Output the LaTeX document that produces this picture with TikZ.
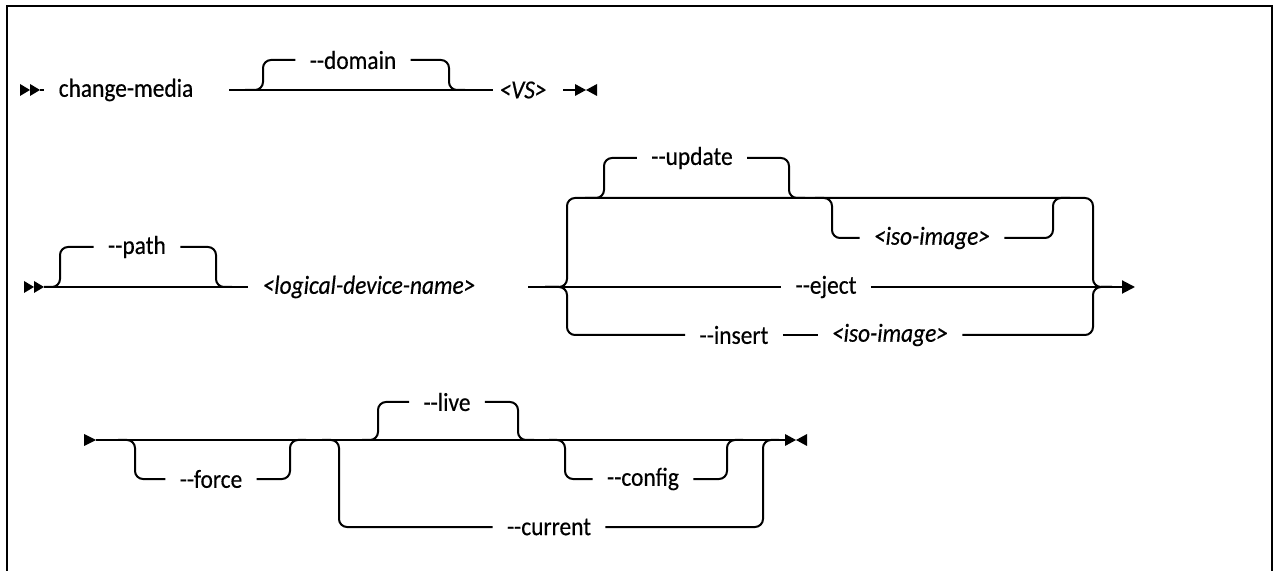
\documentclass[tikz,border=0pt]{standalone}
\usepackage{fontspec}
\setmainfont{Carlito}[FakeStretch=0.9,FakeBold=0.4]
\usetikzlibrary{arrows.meta,positioning}
\newcommand{\dd}{-{}-}

\tikzset{
  rail/.style={line width=1pt, rounded corners=4pt},
  tok/.style={inner xsep=7pt, inner ysep=0pt, font=\fontsize{13}{15}\selectfont},
  argtok/.style={tok, font=\fontsize{13}{15}\selectfont\itshape},
  dblstart/.pic={\fill (0,-6) -- (10,0) -- (0,6) -- cycle;
                 \fill (10,-6) -- (20,0) -- (10,6) -- cycle;},
  contstart/.pic={\fill (0,-6) -- (12,0) -- (0,6) -- cycle;},
  bowtie/.pic={\fill (0,-6) -- (11,0) -- (0,6) -- cycle;
               \fill (22,-6) -- (11,0) -- (22,6) -- cycle;},
}

\begin{document}
\begin{tikzpicture}[x=0.5pt,y=-0.5pt]
  \useasboundingbox (0,0) rectangle (1274,571);
  \draw[line width=1.3pt] (7,571) -- (7,6) -- (1272,6) -- (1272,571);

  % row 1
  \pic at (20,90) {dblstart};
  \node[tok] (chg) at (126,90) {change-media};
  \node[tok] (domain) at (353,60) {\dd domain};
  \node[argtok,inner xsep=3pt] (vs) at (523,90) {<VS>};
  \coordinate (r1in) at (229,90);
  \coordinate (r1end) at (563,90);
  \draw[rail] (40,90) -- (chg.west);
  \draw[rail] (r1in) -- (vs.west);
  \draw[rail] (245,90) -- (263,90) -- (263,60) -- (domain.west);
  \draw[rail] (domain.east) -- (449,60) -- (449,90) -- (465,90);
  \draw[rail] (r1end) -- (576,90);
  \pic at (575,90) {bowtie};

  % row 2
  \pic at (24,287) {dblstart};
  \node[tok] (path) at (137,247) {\dd path};
  \node[argtok] (ldn) at (369,287) {<logical-device-name>};
  \node[tok] (update) at (692,158) {\dd update};
  \node[argtok] (iso1) at (932,238) {<iso-image>};
  \node[tok] (eject) at (826,287) {\dd eject};
  \node[tok] (insert) at (734,335) {\dd insert};
  \node[argtok] (iso2) at (890,335) {<iso-image>};
  \coordinate (r2in) at (528,287);
  \coordinate (r2out) at (1135,287);
  \draw[rail] (44,287) -- (ldn.west);
  \draw[rail] (44,287) -- (60,287) -- (60,247) -- (path.west);
  \draw[rail] (path.east) -- (216,247) -- (216,287) -- (232,287);
  \draw[rail] (r2in) -- (eject.west);
  \draw[rail,-{Triangle[length=6.5pt,width=6.5pt]}] (eject.east) -- (r2out);
  \draw[rail] (545,287) -- (567,287) -- (567,198) -- (1093,198) -- (1093,287) -- (1112,287);
  \draw[rail] (545,287) -- (567,287) -- (567,335) -- (insert.west);
  \draw[rail] (insert.east) -- (iso2.west);
  \draw[rail] (iso2.east) -- (1093,335) -- (1093,287) -- (1112,287);
  \draw[rail] (585,198) -- (604,198) -- (604,158) -- (update.west);
  \draw[rail] (update.east) -- (789,158) -- (789,198) -- (805,198);
  \draw[rail] (815,198) -- (832,198) -- (832,238) -- (iso1.west);
  \draw[rail] (iso1.east) -- (1053,238) -- (1053,198) -- (1070,198);

  % row 3
  \pic at (84,440) {contstart};
  \node[tok] (force) at (211,479) {\dd force};
  \node[tok] (live) at (447,402) {\dd live};
  \node[tok] (config) at (643,479) {\dd config};
  \node[tok] (current) at (549,527) {\dd current};
  \coordinate (r3in) at (96,440);
  \coordinate (r3end) at (786,440);
  \draw[rail] (r3in) -- (r3end);
  \draw[rail] (118,440) -- (135,440) -- (135,479) -- (force.west);
  \draw[rail] (force.east) -- (290,479) -- (290,440) -- (306,440);
  \draw[rail] (322,440) -- (339,440) -- (339,527) -- (current.west);
  \draw[rail] (current.east) -- (763,527) -- (763,440) -- (779,440);
  \draw[rail] (362,440) -- (378,440) -- (378,402) -- (live.west);
  \draw[rail] (live.east) -- (518,402) -- (518,440) -- (534,440);
  \draw[rail] (549,440) -- (565,440) -- (565,479) -- (config.west);
  \draw[rail] (config.east) -- (727,479) -- (727,440) -- (743,440);
  \pic at (785,440) {bowtie};
\end{tikzpicture}
\end{document}
